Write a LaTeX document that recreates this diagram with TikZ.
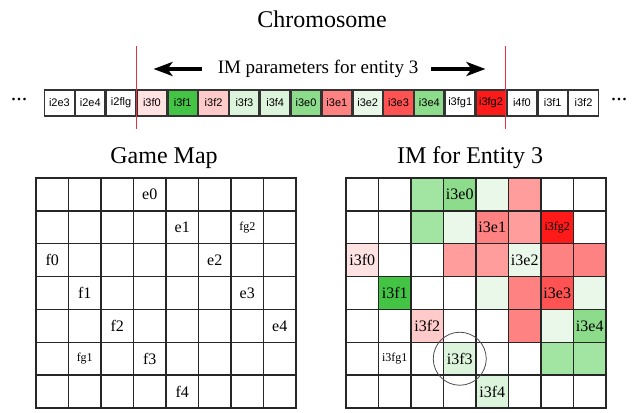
\documentclass[tikz,border=0pt]{standalone}
\usepackage{fontspec}
\setmainfont{Liberation Serif}
\newfontfamily\genefont{Liberation Sans}
\usetikzlibrary{arrows.meta}
\definecolor{gStrong}{HTML}{44C444}
\definecolor{gMid}{HTML}{8CDC8C}
\definecolor{gSoft}{HTML}{A2E4A2}
\definecolor{gPale}{HTML}{DCF4DC}
\definecolor{gFaint}{HTML}{EAF8EA}
\definecolor{rStrong}{HTML}{FF1A1A}
\definecolor{rHot}{HTML}{FF5252}
\definecolor{rMid}{HTML}{FF8282}
\definecolor{rSoft}{HTML}{FF9C9C}
\definecolor{rPale}{HTML}{FFCACA}
\definecolor{rFaint}{HTML}{FFE2E2}
\definecolor{cutred}{HTML}{E8303E}
\tikzset{
  gene/.style={draw=black!80,line width=1.3pt,minimum width=29.5pt,minimum height=26pt,
    inner sep=0pt,font=\genefont\fontsize{11}{13}\selectfont},
  cell/.style={draw=black!85,line width=1.4pt,minimum width=32.5pt,minimum height=32.86pt,inner sep=0pt},
  heading/.style={font=\fontsize{24}{28}\selectfont},
  lbl/.style={font=\fontsize{16}{18}\selectfont,inner sep=1pt},
  fglbl/.style={font=\fontsize{12}{14}\selectfont,inner sep=1pt},
  cutline/.style={draw=cutred,line width=1.2pt},
  bigarrow/.style={line width=4pt,-{Stealth[length=19pt,width=14pt,inset=5pt]}}
}
\begin{document}
\begin{tikzpicture}[x=1pt,y=-1pt]
\useasboundingbox (0,0) rectangle (642,412);
% chromosome
\node (chrom) [heading] at (322,19) {Chromosome};
\foreach \t/\c [count=\i] in {i2e3/white,i2e4/white,i2flg/white,i3f0/rFaint,i3f1/gStrong,i3f2/rPale,
  i3f3/gPale,i3f4/gPale,i3e0/gMid,i3e1/rMid,i3e2/gFaint,i3e3/rHot,i3e4/gMid,i3fg1/white,
  i3fg2/rStrong,i4f0/white,i3f1/white,i3f2/white}
  \node (g\i) [gene,fill=\c] at ({44+30.83*(\i-0.5)},103) {\t};
\node (dotsL) [font=\fontsize{22}{24}\selectfont,inner sep=0pt] at (19,100) {...};
\node (dotsR) [font=\fontsize{22}{24}\selectfont,inner sep=0pt] at (619,100) {...};
\coordinate (cutA) at (136.5,46);
\coordinate (cutB) at (505.7,46);
\draw[cutline] (cutA) -- (cutA |- g3.south) -- ++(0,12);
\draw[cutline] (cutB) -- (cutB |- g15.south) -- ++(0,12);
\node (imtext) [font=\fontsize{19}{22}\selectfont,inner sep=2pt] at (318,69) {IM parameters for entity 3};
\draw[bigarrow] ([xshift=-14pt]imtext.west) -- ++(-48,0);
\draw[bigarrow] ([xshift=11pt]imtext.east) -- ++(54,0);
% game map
\node (maptitle) [heading] at (164,158) {Game Map};
\foreach \c in {0,...,7}
  \foreach \r in {0,...,6}
    \node (L-\c-\r) [cell] at ({36+32.5*(\c+0.5)},{178+32.86*(\r+0.5)}) {};
\foreach \c/\r/\t in {3/0/e0,4/1/e1,0/2/f0,5/2/e2,1/3/f1,6/3/e3,2/4/f2,7/4/e4,3/5/f3,4/6/f4}
  \node (m-\t) [lbl] at (L-\c-\r) {\t};
\node (m-fg2) [fglbl] at (L-6-1) {fg2};
\node (m-fg1) [fglbl] at (L-1-5) {fg1};
% influence map
\node (imtitle) [heading] at (470,158) {IM for Entity 3};
\foreach \c/\r/\k in {2/0/gSoft,3/0/gMid,4/0/gFaint,5/0/rSoft,
  2/1/gSoft,3/1/gFaint,4/1/rMid,5/1/rSoft,6/1/rStrong,
  0/2/rFaint,3/2/rSoft,4/2/rSoft,5/2/gFaint,6/2/rMid,7/2/rMid,
  1/3/gStrong,4/3/gFaint,5/3/rMid,6/3/rHot,7/3/gFaint,
  2/4/rPale,5/4/rMid,6/4/gFaint,7/4/gMid,
  3/5/gPale,6/5/gSoft,7/5/gSoft,4/6/gPale}
  \fill[\k] ({346+32.5*\c},{178+32.86*\r}) rectangle ++(32.5,32.86);
\foreach \c in {0,...,7}
  \foreach \r in {0,...,6}
    \node (R-\c-\r) [cell] at ({346+32.5*(\c+0.5)},{178+32.86*(\r+0.5)}) {};
\foreach \c/\r/\t in {3/0/i3e0,4/1/i3e1,0/2/i3f0,5/2/i3e2,1/3/i3f1,6/3/i3e3,2/4/i3f2,7/4/i3e4,3/5/i3f3,4/6/i3f4}
  \node (im-\t) [lbl] at (R-\c-\r) {\t};
\node (im-fg2) [fglbl] at (R-6-1) {i3fg2};
\node (im-fg1) [fglbl] at (R-1-5) {i3fg1};
\node (focus) [draw=black!70,line width=0.8pt,circle,minimum size=53pt] at (R-3-5) {};
\end{tikzpicture}
\end{document}
